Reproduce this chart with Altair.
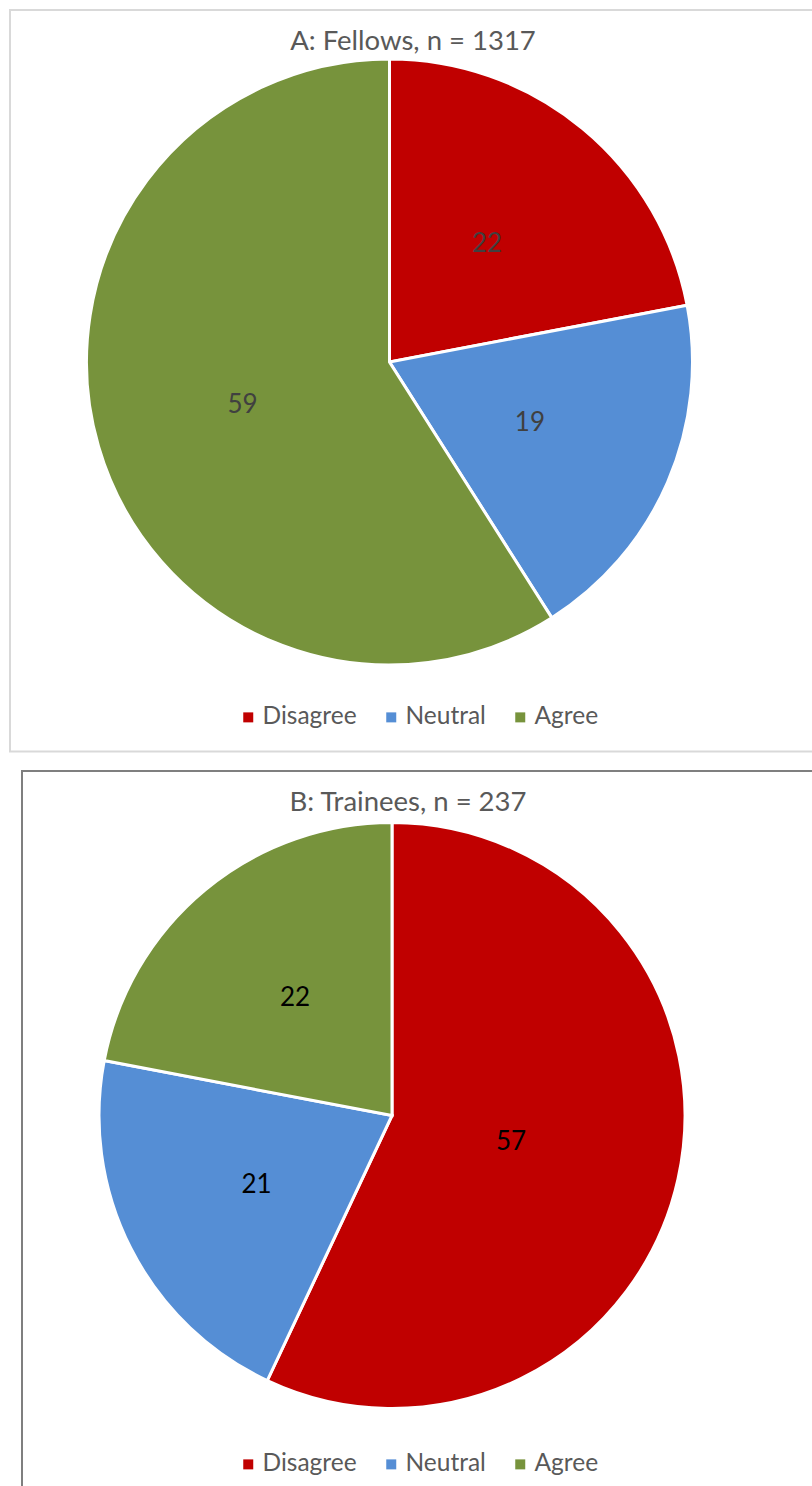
import altair as alt
import pandas as pd

# ---- data ----
categories = ["Disagree", "Neutral", "Agree"]
fellows_pct = [22, 19, 59]
trainees_pct = [57, 21, 22]
panel_titles = ["A: Fellows, n = 1317", "B: Trainees, n = 237"]

palette = ["#C00000", "#558ED5", "#77933C"]
FONT = "Lato"
W, H = 812, 1486


def pie_df(values, panel):
    return pd.DataFrame({
        "panel": panel,
        "category": categories,
        "value": values,
        "order": list(range(len(categories))),
    })


def pie(df, cx, cy, r, label_radius, label_color, legend_x, legend_y):
    base = alt.Chart(df).encode(
        theta=alt.Theta("value:Q", stack=True),
        order=alt.Order("order:Q"),
        x=alt.value(cx),
        y=alt.value(cy),
    )
    arc = base.mark_arc(radius=r, stroke="white", strokeWidth=3).encode(
        color=alt.Color(
            "category:N",
            scale=alt.Scale(domain=categories, range=palette),
            legend=alt.Legend(
                orient="none", legendX=legend_x, legendY=legend_y,
                direction="horizontal", title=None,
                symbolType="square", symbolSize=100, symbolStrokeWidth=0,
                labelFont=FONT, labelFontSize=24.5, labelColor="#595959",
                labelOffset=2, columnPadding=22,
            ),
        )
    )
    text = base.mark_text(font=FONT, fontSize=26, color=label_color,
                          radius=label_radius).encode(text="value:Q")
    return alt.layer(arc, text)


def border(x1, y1, x2, y2, color):
    return alt.Chart(pd.DataFrame({"b": [0]})).mark_rect(
        fill=None, stroke=color, strokeWidth=2
    ).encode(x=alt.value(x1), x2=alt.value(x2), y=alt.value(y1), y2=alt.value(y2))


def title(txt, x, y):
    return alt.Chart(pd.DataFrame({"t": [txt]})).mark_text(
        font=FONT, fontSize=27.5, color="#595959", align="center", baseline="middle"
    ).encode(text="t:N", x=alt.value(x), y=alt.value(y))


pie_a = pie(pie_df(fellows_pct, "A"), 389.5, 362, 303,
            153, "#404040", 236, 705)
pie_b = pie(pie_df(trainees_pct, "B"), 392, 1115.5, 293,
            alt.expr("datum.category == 'Disagree' ? 122 : 152"),
            "#000000", 236, 1452)

chart = alt.layer(
    border(10, 10, 830, 751.5, "#d9d9d9"),
    border(22, 771, 830, 1500, "#7f7f7f"),
    title(panel_titles[0], 413, 42),
    title(panel_titles[1], 408, 803),
    pie_a,
    pie_b,
).resolve_scale(color="independent", theta="independent").properties(
    width=W, height=H, autosize=alt.AutoSizeParams(type="none"), padding=0
).configure_view(stroke=None)

chart.save("out.html", embed_options={"renderer": "svg", "actions": False})
